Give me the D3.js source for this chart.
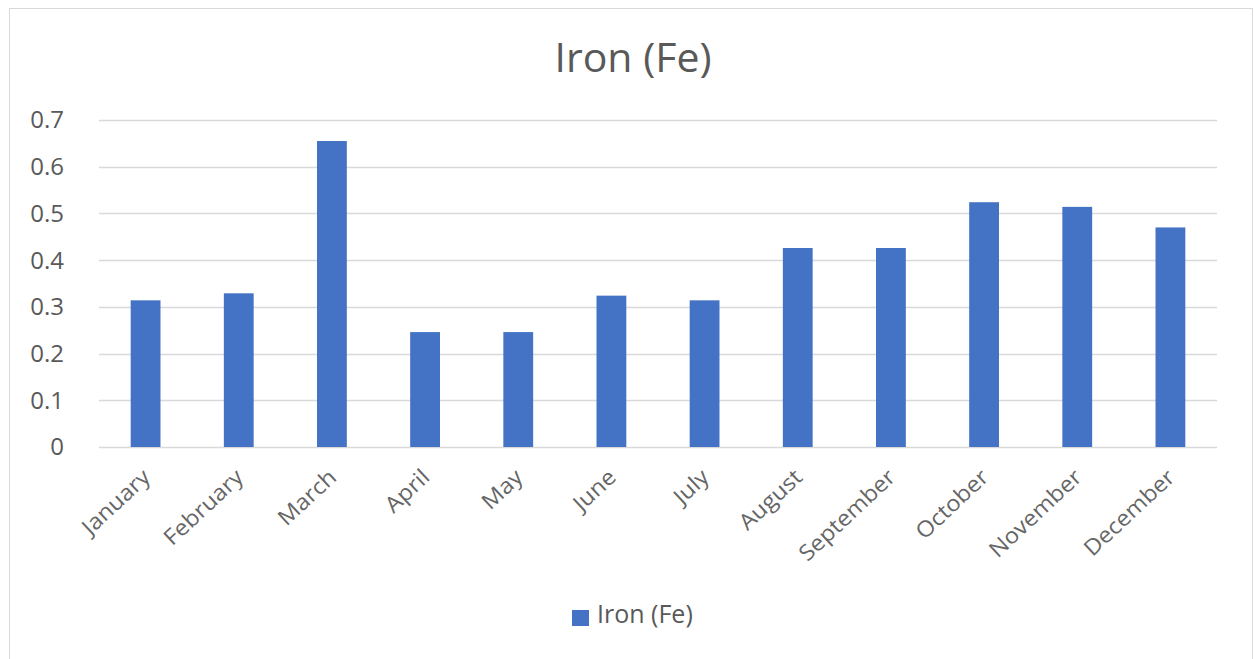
<!DOCTYPE html>
<html>
<head>
<meta charset="utf-8">
<script src="https://cdn.jsdelivr.net/npm/d3@7"></script>
<style>
  body { margin: 0; background: #fff; }
  text { font-family: "Open Sans", sans-serif; fill: #595959; }
</style>
</head>
<body>
<div class="chart"></div>
<script>
const W = 1254, H = 659;
const margin = {t:120, r:37, b:212, l:99};

// data
const months = ['January','February','March','April','May','June','July','August','September','October','November','December'];
const ironValues = [0.314, 0.329, 0.655, 0.246, 0.246, 0.324, 0.314, 0.426, 0.426, 0.524, 0.514, 0.47];
const yTicks = [0, 0.1, 0.2, 0.3, 0.4, 0.5, 0.6, 0.7];
const seriesName = 'Iron (Fe)';

const svg = d3.select('.chart')
  .append('svg')
    .attr('width', W)
    .attr('height', H);

// chart border
svg.append('rect')
  .attr('x', 9.5).attr('y', 8.5)
  .attr('width', 1243).attr('height', 670)
  .style('fill', 'none')
  .style('stroke', '#d9d9d9');

const w = W - margin.l - margin.r;
const h = H - margin.t - margin.b;

const plot = svg.append('g')
  .attr('transform', `translate(${margin.l}, ${margin.t})`);

const x = d3.scaleBand().domain(months).range([0, w]).paddingInner(0.68).paddingOuter(0.34);
const y = d3.scaleLinear().domain([0, 0.7]).range([h, 0]);

// gridlines
plot.selectAll('.grid')
  .data(yTicks)
  .enter().append('line')
    .attr('class', 'grid')
    .attr('x1', 0).attr('x2', w)
    .attr('y1', d => Math.round(y(d)) + 0.5)
    .attr('y2', d => Math.round(y(d)) + 0.5)
    .style('stroke', '#d9d9d9')
    .style('stroke-width', '1.5px');

// y labels
plot.selectAll('.ylab')
  .data(yTicks)
  .enter().append('text')
    .attr('class', 'ylab')
    .attr('x', -35)
    .attr('y', d => y(d))
    .attr('dy', '0.35em')
    .attr('text-anchor', 'end')
    .style('font-size', '24px')
    .text(d => d === 0 ? '0' : d3.format('.1f')(d));

// bars
plot.selectAll('.bar')
  .data(ironValues)
  .enter().append('rect')
    .attr('class', 'bar')
    .attr('x', (d, i) => x(months[i]))
    .attr('width', x.bandwidth())
    .attr('y', d => y(d))
    .attr('height', d => h - y(d))
    .style('fill', '#4472c4');

// x labels (source font is a bit wider than Open Sans)
plot.selectAll('.xlab')
  .data(months)
  .enter().append('text')
    .attr('class', 'xlab')
    .attr('transform', d => `translate(${x(d) + x.bandwidth()/2 + 6}, ${h + 32}) rotate(-43) scale(1.08,1)`)
    .attr('text-anchor', 'end')
    .style('font-size', '22px')
    .style('fill', '#666')
    .text(d => d);

// title
svg.append('text')
  .attr('x', 633).attr('y', 72)
  .attr('text-anchor', 'middle')
  .style('font-size', '41px')
  .text(seriesName);

// legend
const legend = svg.append('g').attr('transform', 'translate(572, 610)');
legend.append('rect')
  .attr('width', 17).attr('height', 16)
  .style('fill', '#4472c4');
legend.append('text')
  .attr('x', 25).attr('y', 13)
  .style('font-size', '25px')
  .text(seriesName);
</script>
</body>
</html>
